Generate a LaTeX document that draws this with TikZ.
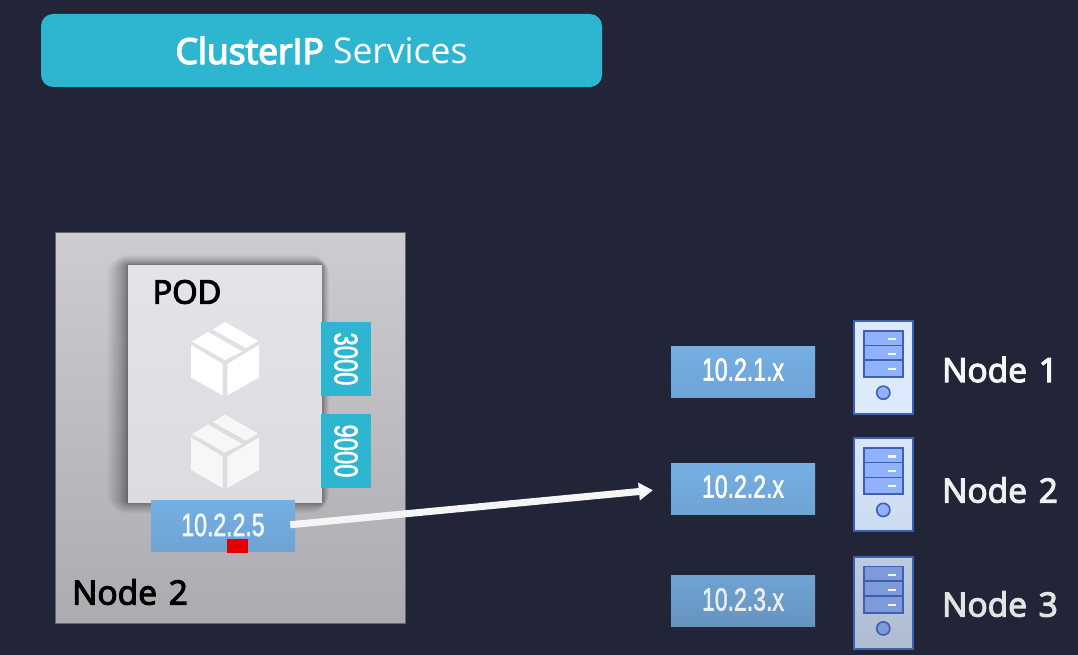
\documentclass[tikz,border=0pt]{standalone}
\usepackage{fontspec}
\setmainfont{Open Sans}
\newfontfamily\medfont{Open Sans}[FakeBold=3.5]
\newfontfamily\titlebold{Open Sans}[FakeBold=4]
\newfontfamily\narrowfont{Liberation Sans}[FakeBold=2]
\usetikzlibrary{calc,arrows.meta}
\definecolor{bgc}{HTML}{222538}
\definecolor{teal}{HTML}{2EB5CF}
\definecolor{ipa}{HTML}{75AFE3}
\definecolor{ipb}{HTML}{6FA3D6}
\definecolor{ipc}{HTML}{6FA3D3}
\definecolor{ipd}{HTML}{6693C0}
\definecolor{srvline}{HTML}{3F5FB5}
\definecolor{rowa}{HTML}{8FB2F8}
\definecolor{rowb}{HTML}{7F9AD8}
\definecolor{casea}{HTML}{DDEAFD}
\definecolor{caseb}{HTML}{DAE6F8}
\definecolor{casec}{HTML}{CBDBEF}
\definecolor{cased}{HTML}{BECADF}
\definecolor{casee}{HTML}{AEBBD0}
\newcommand{\iptext}[1]{\scalebox{0.72}[1]{\narrowfont #1}}
\tikzset{
  ipbox/.style={minimum width=144pt,minimum height=51pt,inner sep=0pt,text=#1,font=\fontsize{32}{32}\selectfont},
  ipbox/.default=white,
  portbox/.style={fill=teal,minimum width=50pt,minimum height=74pt,inner sep=0pt,text=white,font=\fontsize{33}{33}\selectfont},
  nodelabel/.style={anchor=west,inner sep=0pt,font=\fontsize{33.5}{33.5}\selectfont\medfont,text=#1},
  servercase/.style={draw=srvline,line width=2pt},
  serverrow/.style={draw=srvline,line width=1.6pt},
  cube/.pic={
    \fill[fill=#1] (-34,-13.5) -- (-2.3,5.5) -- (-2.3,37) -- (-34,19) -- cycle;
    \fill[fill=#1] (2.3,5.5) -- (34,-13.5) -- (34,19) -- (2.3,37) -- cycle;
    \fill[fill=#1] (-33,-17) -- (-17,-26.5) -- (17,-7) -- (0,1.5) -- cycle;
    \fill[fill=#1] (-12,-29) -- (0,-36.5) -- (33,-17.5) -- (21,-10.5) -- cycle;
  },
}
\newcommand{\serverpic}[5]{% name, top y, fill top, fill bottom, row fill
  \begin{scope}[shift={(854,#2)}]
    \path[servercase,top color=#3,bottom color=#4] (0,0) rectangle (58.5,92.5);
    \path[serverrow,fill=#5] (10,9.7) rectangle (49,24.4);
    \path[serverrow,fill=#5] (10,24.4) rectangle (49,39.2);
    \path[serverrow,fill=#5] (10,39.2) rectangle (49,56);
    \foreach \yy in {18.3,33,48} {\fill[white!90!#5] (33.8,\yy-1.1) rectangle (41.8,\yy+1.1);}
    \path[draw=srvline,line width=1.6pt,fill=#5] (29.3,71.7) circle (6.6);
    \coordinate (#1) at (29.3,46);
  \end{scope}
}
\begin{document}
\begin{tikzpicture}[x=1pt,y=-1pt]
\useasboundingbox (0,0) rectangle (1078,655);
\fill[bgc] (0,0) rectangle (1078,655);

% title
\node[fill=teal,rounded corners=12pt,minimum width=561pt,minimum height=73pt,inner sep=0pt,text=white,font=\fontsize{35.5}{35.5}\selectfont] (title) at (321.5,50.5) {{\titlebold ClusterIP} Services};

% node 2 panel
\node[draw=bgc!70!white,line width=.6pt,top color={rgb,255:red,206;green,204;blue,209},bottom color={rgb,255:red,172;green,171;blue,176},minimum width=350pt,minimum height=391pt,inner sep=0pt] (panel) at (230,427.5) {};
\node[nodelabel=black] (panellabel) at (72,592) {Node\hspace{3pt} 2};

% pod with soft shadow
\foreach \i in {24,23,...,1} {
  \pgfmathsetmacro{\s}{\i*\i/28}
  \fill[black,opacity=.022,rounded corners=\s pt] (128-\s,265-\s*0.5) rectangle (322+\s*0.35,502+\s*0.55);
}
\node[top color={rgb,255:red,228;green,227;blue,231},bottom color={rgb,255:red,220;green,219;blue,223},minimum width=194pt,minimum height=237pt,inner sep=0pt] (pod) at (225,383.5) {};
\node[nodelabel=black,font=\fontsize{32.5}{32.5}\selectfont\medfont] (podlabel) at (152.5,292) {POD};
\pic at (225,358.5) {cube=white};
\pic at (225,451) {cube=white!97!black};

% ports
\node[portbox] (p3000) at (346,359) {\rotatebox{-90}{\iptext{3000}}};
\node[portbox] (p9000) at (346,451) {\rotatebox{-90}{\iptext{9000}}};

% pod IP
\node[ipbox,top color=ipa,bottom color=ipb] (ip5) at (223,526.3) {\raisebox{3pt}{\iptext{\textcolor{white!90!ipa}{10.2.2.5}}}};
\fill[red!90!black] (227,539) rectangle (248,553);

% right column
\node[ipbox,top color=ipa,bottom color=ipb] (ip1) at (743,371.5) {\raisebox{4pt}{\iptext{10.2.1.x}}};
\node[ipbox,top color=ipa,bottom color=ipc] (ip2) at (743,488.5) {\raisebox{4pt}{\iptext{10.2.2.x}}};
\node[ipbox=white!85!gray,top color=ipc,bottom color=ipd] (ip3) at (743,601.3) {\raisebox{4pt}{\iptext{10.2.3.x}}};

\serverpic{s1}{321}{casea}{casea}{rowa}
\serverpic{s2}{438.2}{caseb}{casec}{rowa}
\serverpic{s3}{556.7}{cased}{casee}{rowb}

\node[nodelabel=white!93!gray] (l1) at (942,369.5) {Node\hspace{3pt} 1};
\node[nodelabel=white!88!gray] (l2) at (942,490) {Node\hspace{3pt} 2};
\node[nodelabel=white!78!gray] (l3) at (942,604) {Node\hspace{3pt} 3};

% connector
\draw[line width=7pt,white!92!gray,shorten <=-5pt,shorten >=18pt,-{Triangle[length=14pt,width=17pt,fill=white]}]
  ($(ip5.east)+(0,-2)$) -- (ip2.west);
\end{tikzpicture}
\end{document}
